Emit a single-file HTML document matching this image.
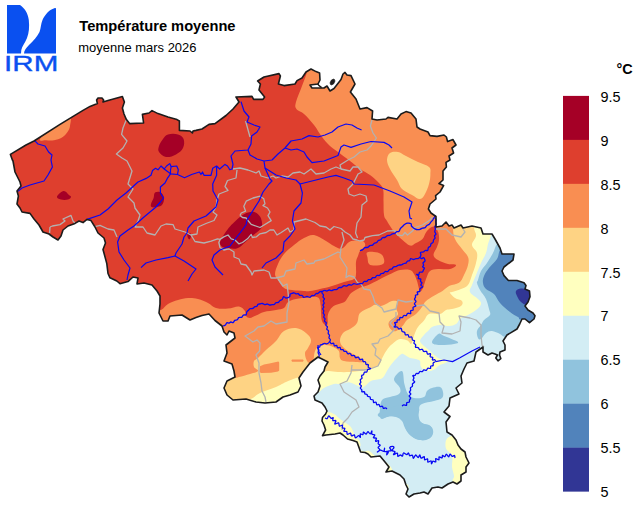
<!DOCTYPE html>
<html><head><meta charset="utf-8"><title>Température moyenne</title>
<style>
html,body{margin:0;padding:0;background:#fff;}
body{width:640px;height:507px;overflow:hidden;}
svg{display:block;font-family:"Liberation Sans",sans-serif;}
</style></head><body>
<svg width="640" height="507" viewBox="0 0 640 507">
<rect width="640" height="507" fill="#fff"/>
<defs><clipPath id="cp"><path d="M10.4 154.4 L26.0 145.0 L34.0 141.0 L60.0 124.4 L83.0 110.4 L90.0 106.4 L97.4 103.6 L96.6 100.0 L98.0 98.0 L102.0 98.0 L103.6 100.0 L103.0 102.0 L108.0 100.6 L122.4 96.6 L124.4 102.0 L122.4 108.0 L124.0 114.0 L126.4 119.6 L129.6 123.6 L143.6 123.0 L142.4 114.4 L149.0 113.0 L152.0 110.6 L158.0 113.6 L168.0 117.0 L177.0 119.6 L179.4 121.0 L179.4 130.4 L190.0 131.0 L192.4 133.0 L193.0 131.0 L196.0 130.4 L202.0 129.0 L209.0 124.4 L215.0 123.6 L226.0 115.5 L233.0 109.0 L239.0 102.0 L236.0 97.0 L252.0 96.4 L253.6 99.4 L263.0 99.4 L264.6 97.0 L259.0 90.0 L260.4 84.0 L257.6 81.0 L264.0 77.0 L279.0 73.6 L280.4 76.0 L278.4 84.0 L284.0 85.6 L295.0 84.0 L297.0 80.6 L302.0 78.0 L306.0 72.0 L311.0 69.0 L316.0 71.6 L319.6 73.0 L320.0 80.0 L318.0 84.0 L310.0 85.0 L312.0 88.0 L324.0 88.0 L327.0 86.0 L330.0 91.0 L334.0 88.5 L341.0 79.5 L343.0 74.0 L345.0 72.4 L347.0 75.0 L351.0 75.6 L355.0 84.0 L350.4 92.0 L356.0 99.0 L360.0 109.0 L367.0 107.6 L372.6 111.0 L372.0 119.0 L377.0 120.0 L386.0 119.0 L388.0 117.4 L397.0 119.0 L401.0 114.0 L406.0 111.6 L411.0 113.0 L416.0 119.0 L417.0 127.0 L420.0 129.0 L428.0 132.0 L430.0 135.6 L437.0 136.4 L444.0 135.0 L446.4 137.0 L447.6 141.6 L453.0 139.6 L456.0 145.0 L452.0 148.0 L453.6 153.0 L449.0 156.0 L450.0 160.0 L446.0 162.4 L446.4 167.0 L443.0 171.0 L443.0 180.0 L439.0 183.6 L443.6 185.6 L440.0 192.0 L435.6 195.6 L436.0 199.0 L430.0 204.0 L428.4 209.0 L431.0 213.0 L436.0 216.5 L436.0 227.0 L442.0 226.0 L446.0 222.0 L449.0 226.0 L452.0 225.0 L454.0 228.0 L461.0 225.0 L463.0 228.0 L472.0 226.0 L481.0 228.0 L483.0 234.0 L492.0 234.0 L495.0 239.0 L500.0 248.0 L502.0 254.0 L514.0 254.0 L513.0 260.0 L504.0 267.0 L502.0 271.0 L504.0 275.6 L508.4 280.5 L517.0 280.5 L524.0 282.7 L526.0 285.5 L525.0 289.0 L529.5 291.0 L530.0 296.7 L528.0 302.0 L525.0 306.0 L528.0 310.0 L533.0 313.0 L535.0 315.7 L534.0 319.0 L529.5 322.7 L525.0 319.0 L522.0 319.0 L519.7 324.0 L517.0 329.0 L511.0 332.6 L507.0 335.0 L505.0 338.0 L503.0 341.0 L505.0 345.0 L505.0 350.0 L500.0 352.0 L499.5 355.0 L500.8 358.6 L498.0 360.8 L495.8 358.0 L497.5 355.0 L495.0 354.0 L492.0 353.0 L488.0 355.0 L483.0 352.0 L483.0 347.0 L476.0 352.0 L474.0 361.0 L467.0 363.0 L464.0 369.0 L461.0 376.0 L462.0 383.0 L456.0 388.0 L459.0 394.0 L450.0 398.0 L449.0 406.0 L444.0 412.0 L450.0 416.5 L446.0 422.0 L447.0 432.0 L452.0 435.0 L456.0 440.0 L458.0 445.0 L461.0 449.0 L465.0 452.0 L466.0 457.0 L469.0 463.0 L466.0 467.0 L466.0 472.0 L461.0 475.0 L461.0 481.0 L457.0 484.0 L453.0 482.0 L448.0 484.0 L442.0 488.0 L438.0 487.0 L432.0 488.0 L428.0 494.0 L424.0 492.0 L420.0 493.0 L414.0 494.0 L409.0 497.0 L406.0 494.0 L408.0 489.0 L406.0 485.0 L404.0 479.0 L400.0 475.0 L392.0 471.0 L386.0 472.0 L389.0 467.0 L385.0 462.0 L380.0 456.0 L371.0 457.0 L368.0 454.0 L365.0 452.5 L360.6 452.0 L359.0 447.5 L357.0 442.0 L353.0 440.6 L347.5 439.0 L343.0 435.0 L340.0 433.0 L335.0 434.0 L326.0 435.0 L322.5 435.6 L325.6 430.0 L324.0 425.0 L322.0 421.0 L322.5 417.5 L325.6 414.0 L327.0 411.0 L325.0 407.0 L322.0 403.0 L315.0 400.0 L314.0 396.0 L318.0 392.0 L320.0 386.0 L318.0 380.0 L320.0 376.0 L324.0 371.0 L325.0 367.0 L328.0 362.0 L324.0 360.0 L318.0 357.0 L310.0 363.0 L303.0 372.0 L299.0 378.0 L301.0 386.0 L298.0 392.0 L290.0 395.0 L283.0 397.0 L276.0 402.0 L265.0 403.0 L256.0 402.0 L246.0 399.0 L233.0 400.0 L227.0 395.0 L224.0 388.0 L227.0 381.0 L235.0 377.0 L234.0 371.0 L232.0 364.0 L224.0 361.0 L227.0 353.0 L226.0 345.0 L235.0 338.0 L234.0 333.0 L229.0 331.0 L227.0 335.0 L224.0 332.0 L222.0 326.0 L215.0 320.5 L209.0 314.0 L202.0 315.5 L196.0 317.5 L190.0 320.0 L182.0 315.0 L170.0 316.0 L168.0 321.0 L163.0 321.0 L159.0 313.0 L160.0 304.0 L160.0 296.0 L157.0 291.0 L152.0 285.0 L144.0 283.0 L137.0 284.0 L138.0 278.0 L133.0 277.0 L128.0 281.6 L120.0 283.7 L116.8 281.0 L110.0 277.8 L108.0 273.5 L106.8 263.6 L104.5 255.0 L103.0 249.5 L105.5 243.0 L104.0 238.0 L98.0 233.0 L95.0 227.0 L91.0 220.6 L87.0 219.4 L83.0 222.6 L79.0 221.0 L75.0 223.4 L68.0 226.0 L63.0 230.0 L61.0 236.0 L58.0 240.0 L53.0 237.0 L49.0 234.0 L43.0 232.0 L39.0 225.0 L34.0 219.0 L30.0 213.4 L22.0 212.0 L20.0 208.0 L17.0 204.0 L18.4 196.0 L17.0 191.0 L21.0 186.0 L20.0 182.0 L15.0 172.0 L13.0 161.0 L12.4 160.0Z"/></clipPath></defs>
<g clip-path="url(#cp)" shape-rendering="geometricPrecision">
<rect x="0" y="60" width="560" height="447" fill="#de3f2e"/>
<path d="M40.0 139.0 C41.6 136.0 49.6 128.2 55.0 124.0 C60.4 119.8 66.8 115.6 69.5 116.0 C72.2 116.4 70.4 123.1 70.0 126.0 C69.6 128.9 69.0 129.9 67.5 132.0 C66.0 134.1 64.5 136.0 62.0 137.5 C59.5 139.0 56.9 139.7 54.0 140.2 C51.1 140.7 48.6 140.4 46.0 140.2 C43.4 140.0 38.4 142.0 40.0 139.0Z" fill="#f98e52"/>
<path d="M309.0 60.0 C279.1 62.2 308.3 67.2 307.0 72.0 C305.7 76.8 304.0 80.5 302.0 86.0 C300.0 91.5 297.0 97.8 296.0 102.0 C295.0 106.2 294.9 106.8 296.4 109.0 C297.9 111.2 300.8 111.1 304.0 114.0 C307.2 116.9 310.7 120.8 314.0 125.0 C317.3 129.2 319.1 133.2 322.0 137.0 C324.9 140.8 326.7 143.0 330.0 146.0 C333.3 149.0 336.3 150.8 340.0 153.5 C343.7 156.2 346.3 158.2 350.0 161.0 C353.7 163.8 356.3 166.4 360.0 169.0 C363.7 171.6 366.7 172.6 370.0 175.0 C373.3 177.4 375.6 179.4 378.0 182.0 C380.4 184.6 382.0 185.5 383.0 189.0 C384.0 192.5 383.3 196.2 383.5 201.0 C383.7 205.8 383.4 211.3 384.0 215.0 C384.6 218.7 385.7 218.7 387.0 221.0 C388.3 223.3 389.4 225.1 391.0 227.5 C392.6 229.9 393.9 231.7 396.0 234.0 C398.1 236.3 399.9 237.9 402.5 240.0 C405.1 242.1 407.5 245.0 410.0 245.6 C412.5 246.2 413.7 244.2 416.0 243.0 C418.3 241.8 420.7 240.9 422.5 239.0 C424.3 237.1 424.6 234.5 426.0 232.5 C427.4 230.5 428.4 229.2 430.0 228.0 C431.6 226.8 433.5 226.7 435.0 226.0 C436.5 225.3 431.6 226.0 438.0 224.0 C444.4 222.0 464.1 245.1 470.0 215.0 C475.9 184.9 499.5 88.4 470.0 60.0 C440.5 31.6 338.9 57.8 309.0 60.0Z" fill="#f98e52"/>
<path d="M304.0 238.0 C307.7 236.2 310.0 234.4 314.0 235.0 C318.0 235.6 322.3 239.0 326.0 241.0 C329.7 243.0 331.1 244.6 334.0 246.0 C336.9 247.4 339.1 249.3 342.0 248.5 C344.9 247.7 346.7 242.9 350.0 241.5 C353.3 240.1 357.4 240.5 360.0 240.6 C362.6 240.7 363.1 241.0 364.0 242.0 C364.9 243.0 365.7 244.3 365.0 246.0 C364.3 247.7 361.3 249.2 360.0 251.0 C358.7 252.8 358.7 254.0 358.0 256.0 C357.3 258.0 356.4 258.7 356.0 262.0 C355.6 265.3 356.4 270.9 356.0 274.0 C355.6 277.1 356.2 277.5 354.0 279.0 C351.8 280.5 348.0 280.7 344.0 282.0 C340.0 283.3 336.4 284.7 332.0 286.0 C327.6 287.3 324.0 288.1 320.0 289.0 C316.0 289.9 312.9 290.6 310.0 291.0 C307.1 291.4 307.3 291.2 304.0 291.0 C300.7 290.8 295.7 290.6 292.0 290.0 C288.3 289.4 286.6 289.8 284.0 288.0 C281.4 286.2 279.6 282.6 278.0 280.0 C276.4 277.4 275.0 276.9 275.0 274.0 C275.0 271.1 276.4 267.7 278.0 264.0 C279.6 260.3 281.1 257.5 284.0 254.0 C286.9 250.5 290.3 247.9 294.0 245.0 C297.7 242.1 300.3 239.8 304.0 238.0Z" fill="#f98e52"/>
<path d="M367.0 252.5 C368.2 251.5 371.4 251.7 374.0 252.0 C376.6 252.3 379.2 252.7 381.0 254.0 C382.8 255.3 383.6 257.2 384.0 259.0 C384.4 260.8 384.6 262.8 383.0 264.0 C381.4 265.2 377.6 265.6 375.0 265.6 C372.4 265.6 370.4 265.5 369.0 264.0 C367.6 262.5 367.9 259.6 367.5 257.5 C367.1 255.4 365.8 253.5 367.0 252.5Z" fill="#f98e52"/>
<path d="M150.0 312.0 C152.0 273.5 157.7 311.5 161.0 310.0 C164.3 308.5 164.9 305.8 168.0 304.0 C171.1 302.2 174.3 301.1 178.0 300.0 C181.7 298.9 184.3 298.2 188.0 298.0 C191.7 297.8 194.3 298.1 198.0 299.0 C201.7 299.9 204.7 301.4 208.0 303.0 C211.3 304.6 212.3 307.0 216.0 308.0 C219.7 309.0 223.8 308.9 228.0 308.6 C232.2 308.3 235.9 306.1 239.0 306.5 C242.1 306.9 243.7 309.3 245.0 311.0 C246.3 312.7 245.1 314.7 246.0 316.0 C246.9 317.3 248.2 318.1 250.0 318.0 C251.8 317.9 253.4 316.6 256.0 315.5 C258.6 314.4 260.3 313.0 264.0 312.0 C267.7 311.0 272.3 310.7 276.0 310.0 C279.7 309.3 281.8 309.5 284.0 308.0 C286.2 306.5 285.8 303.6 288.0 302.0 C290.2 300.4 292.3 299.8 296.0 299.0 C299.7 298.2 304.0 297.9 308.0 297.6 C312.0 297.3 315.7 296.1 318.0 297.5 C320.3 298.9 320.1 302.2 320.6 305.0 C321.2 307.8 320.7 309.6 321.0 312.5 C321.3 315.4 321.1 318.6 322.0 321.0 C322.9 323.4 325.0 325.2 326.0 325.6 C327.0 326.0 327.4 324.8 327.7 323.0 C328.0 321.2 327.3 318.4 327.7 316.0 C328.1 313.6 328.7 312.0 330.0 310.0 C331.3 308.0 332.4 306.7 335.0 305.3 C337.6 303.9 341.7 303.7 344.0 302.3 C346.3 300.9 346.3 299.5 347.7 297.7 C349.1 295.9 349.2 294.5 351.5 292.7 C353.8 290.9 356.6 289.2 360.0 287.7 C363.4 286.2 365.6 286.3 370.0 284.3 C374.4 282.3 379.9 279.1 384.0 277.0 C388.1 274.9 389.6 274.3 392.5 273.0 C395.4 271.7 396.8 270.6 400.0 270.0 C403.2 269.4 407.4 269.3 410.0 270.0 C412.6 270.7 412.7 272.0 414.0 274.0 C415.3 276.0 415.9 277.9 417.0 281.0 C418.1 284.1 418.9 289.7 420.0 291.0 C421.1 292.3 421.9 290.2 423.0 288.0 C424.1 285.8 424.7 282.1 426.0 279.0 C427.3 275.9 427.8 272.8 430.0 271.0 C432.2 269.2 434.3 269.4 438.0 269.0 C441.7 268.6 446.7 269.7 450.0 269.0 C453.3 268.3 456.4 265.9 456.0 265.0 C455.6 264.1 451.3 264.9 448.0 264.0 C444.7 263.1 440.7 261.6 438.0 260.0 C435.3 258.4 433.7 257.4 433.5 255.0 C433.3 252.6 436.0 249.8 437.0 247.0 C438.0 244.2 438.7 242.6 439.0 240.0 C439.3 237.4 438.9 235.2 438.5 233.0 C438.1 230.8 437.3 231.7 437.0 228.0 C436.7 224.3 412.6 215.8 437.0 213.0 C461.4 210.2 545.6 156.7 570.0 213.0 C594.4 269.3 647.0 463.7 570.0 520.0 C493.0 576.3 227.0 558.1 150.0 520.0 C73.0 481.9 148.0 350.5 150.0 312.0Z" fill="#f98e52"/>
<path d="M390.0 153.0 C392.0 151.5 395.1 151.4 398.0 152.0 C400.9 152.6 402.3 154.2 406.0 156.0 C409.7 157.8 413.8 160.0 418.0 162.0 C422.2 164.0 426.7 164.8 429.0 167.0 C431.3 169.2 430.4 170.9 430.4 174.0 C430.4 177.1 430.0 180.3 429.0 184.0 C428.0 187.7 426.6 191.2 425.0 194.0 C423.4 196.8 422.4 198.8 420.0 199.0 C417.6 199.2 415.3 196.8 412.0 195.0 C408.7 193.2 404.8 191.8 402.0 189.0 C399.2 186.2 399.2 183.7 397.0 180.0 C394.8 176.3 391.8 172.7 390.0 169.0 C388.2 165.3 387.0 162.9 387.0 160.0 C387.0 157.1 388.0 154.5 390.0 153.0Z" fill="#fed384"/>
<path d="M284.0 331.0 C287.7 328.6 292.0 327.6 296.0 328.0 C300.0 328.4 303.2 330.8 306.0 333.0 C308.8 335.2 310.6 337.2 311.0 340.0 C311.4 342.8 309.1 345.6 308.0 348.0 C306.9 350.4 305.2 350.6 305.0 353.0 C304.8 355.4 305.9 359.0 307.0 361.0 C308.1 363.0 310.1 363.1 311.0 364.0 C311.9 364.9 312.6 359.4 312.0 366.0 C311.4 372.6 308.7 391.9 308.0 400.0 C307.3 408.1 324.1 408.2 308.0 410.0 C291.9 411.8 236.1 415.9 220.0 410.0 C203.9 404.1 217.2 383.9 220.0 378.0 C222.8 372.1 231.5 378.2 235.0 378.0 C238.5 377.8 236.2 377.7 239.0 377.0 C241.8 376.3 246.5 375.1 250.0 374.0 C253.5 372.9 257.3 372.3 258.0 371.0 C258.7 369.7 254.7 368.8 254.0 367.0 C253.3 365.2 253.3 362.6 254.0 361.0 C254.7 359.4 255.8 360.0 258.0 358.0 C260.2 356.0 262.7 353.1 266.0 350.0 C269.3 346.9 272.7 344.5 276.0 341.0 C279.3 337.5 280.3 333.4 284.0 331.0Z" fill="#fed384"/>
<path d="M316.0 349.0 C318.4 345.1 322.0 344.8 326.0 345.0 C330.0 345.2 335.4 347.6 338.0 350.0 C340.6 352.4 338.9 356.0 340.0 358.0 C341.1 360.0 341.1 360.3 344.0 361.0 C346.9 361.7 352.3 361.8 356.0 362.0 C359.7 362.2 363.3 362.7 364.0 362.0 C364.7 361.3 362.0 359.5 360.0 358.0 C358.0 356.5 355.9 355.8 353.0 354.0 C350.1 352.2 346.4 350.4 344.0 348.0 C341.6 345.6 340.2 343.8 340.0 341.0 C339.8 338.2 341.2 335.2 343.0 333.0 C344.8 330.8 347.4 330.8 350.0 329.0 C352.6 327.2 355.2 325.9 357.0 323.0 C358.8 320.1 357.6 315.8 360.0 313.0 C362.4 310.2 367.2 309.0 370.0 307.5 C372.8 306.0 373.1 305.1 375.0 304.8 C376.9 304.5 378.6 306.1 380.6 306.0 C382.6 305.9 383.9 304.9 386.0 304.0 C388.1 303.1 389.9 301.4 392.0 301.0 C394.1 300.6 396.7 300.5 397.5 301.8 C398.3 303.1 396.1 305.7 396.2 308.0 C396.3 310.3 398.6 312.6 398.0 314.5 C397.4 316.4 394.6 317.2 393.0 318.5 C391.4 319.8 390.1 320.3 389.3 321.5 C388.5 322.7 388.4 323.7 388.6 325.0 C388.8 326.3 389.3 327.6 390.3 328.8 C391.3 330.0 392.6 331.1 394.0 331.3 C395.4 331.5 396.4 331.0 398.0 330.0 C399.6 329.0 401.3 327.5 403.0 325.6 C404.7 323.7 405.1 321.7 407.5 319.6 C409.9 317.5 413.4 316.2 416.0 314.0 C418.6 311.8 419.8 309.9 421.6 307.6 C423.4 305.3 423.5 303.4 425.8 301.2 C428.1 299.0 430.9 297.6 434.0 295.7 C437.1 293.8 439.7 292.8 442.5 291.0 C445.3 289.2 446.5 287.3 449.5 285.8 C452.5 284.3 456.3 284.8 459.0 282.8 C461.7 280.8 462.4 278.3 464.0 275.0 C465.6 271.7 467.3 268.3 468.0 265.0 C468.7 261.7 469.1 259.9 468.0 257.0 C466.9 254.1 464.4 252.3 462.0 249.0 C459.6 245.7 456.6 242.7 455.0 239.0 C453.4 235.3 453.4 233.8 453.0 229.0 C452.6 224.2 431.6 215.9 453.0 213.0 C474.4 210.1 548.5 156.7 570.0 213.0 C591.5 269.3 617.9 463.7 570.0 520.0 C522.1 576.3 356.9 542.0 309.0 520.0 C261.1 498.0 308.3 428.2 309.0 400.0 C309.7 371.8 311.7 375.4 313.0 366.0 C314.3 356.6 313.6 352.9 316.0 349.0Z" fill="#fed384"/>
<path d="M260.0 366.3 L264.0 364.6 L269.4 363.5 L278.4 361.4 L279.2 362.5 L279.2 370.5 L278.0 371.4 L271.0 372.8 L261.0 373.0 L259.6 372.0Z" fill="#f98e52"/>
<path d="M292.0 359.4 L303.0 359.4 L303.5 360.5 L303.0 361.8 L292.0 361.8 L291.5 360.5Z" fill="#f98e52"/>
<path d="M253.0 398.0 C255.6 396.5 255.8 395.0 260.0 393.0 C264.2 391.0 271.2 389.0 276.0 387.0 C280.8 385.0 282.3 383.6 286.0 382.0 C289.7 380.4 293.6 378.7 296.0 378.0 C298.4 377.3 297.9 378.2 299.0 378.0 C300.1 377.8 300.4 374.8 302.0 377.0 C303.6 379.2 306.9 383.9 308.0 390.0 C309.1 396.1 320.5 406.3 308.0 410.0 C295.5 413.7 251.4 411.6 240.0 410.0 C228.6 408.4 243.6 403.2 246.0 401.0 C248.4 398.8 250.4 399.5 253.0 398.0Z" fill="#ffffbf"/>
<path d="M474.0 215.0 C456.4 217.4 473.6 224.2 474.0 228.0 C474.4 231.8 476.4 232.9 476.0 236.0 C475.6 239.1 471.8 241.9 472.0 245.0 C472.2 248.1 476.3 249.7 477.0 253.0 C477.7 256.3 476.9 259.0 476.0 263.0 C475.1 267.0 473.5 271.0 472.0 275.0 C470.5 279.0 470.0 282.4 468.0 285.0 C466.0 287.6 463.9 287.7 461.0 289.0 C458.1 290.3 454.0 291.3 452.0 292.0 C450.0 292.7 449.4 291.9 450.0 293.0 C450.6 294.1 452.8 296.5 455.0 298.0 C457.2 299.5 460.9 299.5 462.0 301.0 C463.1 302.5 462.8 304.5 461.0 306.0 C459.2 307.5 454.8 308.3 452.0 309.0 C449.2 309.7 448.2 309.1 446.0 310.0 C443.8 310.9 443.1 313.3 440.0 314.0 C436.9 314.7 431.9 312.8 429.0 314.0 C426.1 315.2 426.0 318.1 424.0 320.5 C422.0 322.9 419.6 324.7 418.0 327.0 C416.4 329.3 415.9 330.8 415.0 333.0 C414.1 335.2 413.7 337.0 413.0 339.0 C412.3 341.0 412.0 343.7 411.0 344.0 C410.0 344.3 409.5 341.5 407.5 340.6 C405.5 339.7 402.5 338.7 400.0 339.0 C397.5 339.3 396.3 340.7 394.0 342.5 C391.7 344.3 389.6 346.2 387.5 349.0 C385.4 351.8 383.9 354.8 382.5 357.5 C381.1 360.2 381.2 361.8 380.0 363.5 C378.8 365.2 378.2 365.9 376.0 367.0 C373.8 368.1 370.9 368.8 368.0 369.5 C365.1 370.2 363.3 370.5 360.0 371.0 C356.7 371.5 354.0 371.8 350.0 372.0 C346.0 372.2 341.9 372.2 338.0 372.0 C334.1 371.8 331.8 371.0 329.0 371.0 C326.2 371.0 325.0 371.4 323.0 372.0 C321.0 372.6 320.0 372.5 318.0 374.0 C316.0 375.5 313.6 375.2 312.0 380.0 C310.4 384.8 309.6 374.3 309.0 400.0 C308.4 425.7 261.1 498.0 309.0 520.0 C356.9 542.0 522.1 575.9 570.0 520.0 C617.9 464.1 587.6 270.9 570.0 215.0 C552.4 159.1 491.6 212.6 474.0 215.0Z" fill="#ffffbf"/>
<path d="M491.0 225.0 C476.5 226.8 491.6 231.5 491.0 235.0 C490.4 238.5 488.9 240.7 488.0 244.0 C487.1 247.3 487.3 249.5 486.0 253.0 C484.7 256.5 482.8 259.0 481.0 263.0 C479.2 267.0 477.6 271.0 476.0 275.0 C474.4 279.0 473.1 281.9 472.0 285.0 C470.9 288.1 468.9 289.4 470.0 292.0 C471.1 294.6 476.0 296.8 478.0 299.0 C480.0 301.2 481.4 302.0 481.0 304.0 C480.6 306.0 478.8 307.8 476.0 310.0 C473.2 312.2 468.9 314.4 466.0 316.0 C463.1 317.6 461.8 317.5 460.0 319.0 C458.2 320.5 458.0 322.7 456.0 324.0 C454.0 325.3 451.9 325.8 449.0 326.0 C446.1 326.2 443.1 324.8 440.0 325.0 C436.9 325.2 434.0 326.1 432.0 327.0 C430.0 327.9 430.5 328.5 429.0 330.0 C427.5 331.5 425.6 333.0 424.0 335.0 C422.4 337.0 420.0 339.0 420.0 341.0 C420.0 343.0 422.2 344.2 424.0 346.0 C425.8 347.8 428.0 349.2 430.0 351.0 C432.0 352.8 433.2 354.1 435.0 355.6 C436.8 357.1 438.0 358.2 440.0 359.0 C442.0 359.8 444.2 359.7 446.0 360.0 C447.8 360.3 450.2 360.1 450.0 360.6 C449.8 361.2 447.0 362.1 445.0 363.0 C443.0 363.9 440.8 364.5 439.0 365.6 C437.2 366.7 436.6 368.0 435.0 369.0 C433.4 370.0 432.0 370.8 430.0 371.0 C428.0 371.2 425.7 370.9 424.0 370.0 C422.3 369.1 421.3 367.6 420.6 366.0 C419.9 364.4 420.8 362.3 420.0 361.0 C419.2 359.7 417.8 359.6 416.0 359.0 C414.2 358.4 412.0 358.7 410.0 358.0 C408.0 357.3 406.6 355.7 405.0 355.0 C403.4 354.3 403.0 353.4 401.5 354.0 C400.0 354.6 398.7 356.3 397.0 358.0 C395.3 359.7 393.7 361.3 392.0 363.5 C390.3 365.7 389.1 367.4 387.5 370.0 C385.9 372.6 384.8 375.8 383.0 377.5 C381.2 379.2 379.7 378.9 377.5 379.5 C375.3 380.1 373.3 379.8 371.0 381.0 C368.7 382.2 366.6 384.8 365.0 386.0 C363.4 387.2 363.6 387.7 362.0 387.5 C360.4 387.3 358.2 385.9 356.0 385.0 C353.8 384.1 352.2 382.9 350.0 382.5 C347.8 382.1 345.8 382.7 344.0 383.0 C342.2 383.3 341.8 383.8 340.0 384.0 C338.2 384.2 336.9 383.3 334.0 384.0 C331.1 384.7 326.8 386.5 324.0 388.0 C321.2 389.5 321.6 390.5 319.0 392.0 C316.4 393.5 311.6 372.5 310.0 396.0 C308.4 419.5 262.3 497.3 310.0 520.0 C357.7 542.7 522.3 574.1 570.0 520.0 C617.7 465.9 584.5 279.1 570.0 225.0 C555.5 170.9 505.5 223.2 491.0 225.0Z" fill="#d3edf4"/>
<path d="M318.0 413.0 C320.1 407.9 324.6 411.8 327.5 412.0 C330.4 412.2 331.7 412.7 334.0 414.0 C336.3 415.3 338.0 417.4 340.0 419.0 C342.0 420.6 343.2 421.2 345.0 422.5 C346.8 423.8 348.5 424.4 350.0 426.0 C351.5 427.6 351.9 428.9 353.0 431.0 C354.1 433.1 354.7 435.5 356.0 437.5 C357.3 439.5 359.6 440.1 360.0 442.0 C360.4 443.9 361.7 447.3 358.0 448.0 C354.3 448.7 347.7 447.5 340.0 446.0 C332.3 444.5 320.0 446.1 316.0 440.0 C312.0 433.9 315.9 418.1 318.0 413.0Z" fill="#ffffbf"/>
<path d="M358.0 450.0 C358.7 449.2 362.0 451.3 364.0 451.5 C366.0 451.7 367.2 450.4 369.0 451.0 C370.8 451.6 372.4 453.7 374.0 455.0 C375.6 456.3 378.4 457.1 378.0 458.0 C377.6 458.9 375.3 460.4 372.0 460.0 C368.7 459.6 362.6 457.8 360.0 456.0 C357.4 454.2 357.3 450.8 358.0 450.0Z" fill="#ffffbf"/>
<path d="M384.0 462.0 C385.1 460.5 388.5 464.2 390.0 466.0 C391.5 467.8 393.1 470.5 392.0 472.0 C390.9 473.5 385.5 475.8 384.0 474.0 C382.5 472.2 382.9 463.5 384.0 462.0Z" fill="#ffffbf"/>
<path d="M404.0 484.0 C404.7 483.3 407.3 484.1 408.0 485.0 C408.7 485.9 408.7 488.3 408.0 489.0 C407.3 489.7 404.7 489.9 404.0 489.0 C403.3 488.1 403.3 484.7 404.0 484.0Z" fill="#ffffbf"/>
<path d="M451.0 436.0 C444.7 438.0 445.4 443.3 445.6 447.0 C445.8 450.7 450.8 452.3 452.0 456.0 C453.2 459.7 451.6 463.3 452.0 467.0 C452.4 470.7 453.8 473.2 454.0 476.0 C454.2 478.8 451.5 479.4 453.0 482.0 C454.5 484.6 457.1 492.2 462.0 490.0 C466.9 487.8 476.7 479.9 480.0 470.0 C483.3 460.1 485.3 442.2 480.0 436.0 C474.7 429.8 457.3 434.0 451.0 436.0Z" fill="#ffffbf"/>
<path d="M348.0 428.0 C348.4 427.6 351.6 430.9 352.0 432.0 C352.4 433.1 350.7 434.7 350.0 434.0 C349.3 433.3 347.6 428.4 348.0 428.0Z" fill="#ffffbf"/>
<path d="M510.0 236.0 C499.6 236.9 505.4 239.5 503.0 241.0 C500.6 242.5 498.8 241.8 497.0 244.0 C495.2 246.2 494.8 249.5 493.0 253.0 C491.2 256.5 489.2 259.7 487.0 263.0 C484.8 266.3 482.6 267.9 481.0 271.0 C479.4 274.1 478.7 277.8 478.0 280.0 C477.3 282.2 476.6 281.2 477.0 283.0 C477.4 284.8 478.4 287.1 480.0 290.0 C481.6 292.9 484.4 295.5 486.0 299.0 C487.6 302.5 488.3 306.1 489.0 309.0 C489.7 311.9 490.9 313.0 490.0 315.0 C489.1 317.0 485.6 318.2 484.0 320.0 C482.4 321.8 482.3 323.0 481.0 325.0 C479.7 327.0 477.6 328.6 477.0 331.0 C476.4 333.4 477.3 336.5 478.0 338.0 C478.7 339.5 479.5 339.9 481.0 339.0 C482.5 338.1 484.0 334.5 486.0 333.0 C488.0 331.5 489.4 330.8 492.0 331.0 C494.6 331.2 497.6 332.9 500.0 334.0 C502.4 335.1 501.3 335.9 505.0 337.0 C508.7 338.1 509.9 339.4 520.0 340.0 C530.1 340.6 552.7 359.1 560.0 340.0 C567.3 320.9 569.2 255.1 560.0 236.0 C550.8 216.9 520.5 235.1 510.0 236.0Z" fill="#90c3dd"/>
<path d="M432.0 342.0 C432.0 340.0 436.4 335.2 438.4 334.0 C440.4 332.8 440.7 334.6 443.0 335.5 C445.3 336.4 448.2 337.5 451.0 338.7 C453.8 339.9 457.4 341.0 458.0 342.0 C458.6 343.0 457.6 343.4 454.0 344.0 C450.4 344.6 442.4 345.4 438.4 345.0 C434.4 344.6 432.0 344.0 432.0 342.0Z" fill="#90c3dd"/>
<path d="M382.0 400.0 C383.8 397.8 386.9 398.1 390.0 397.0 C393.1 395.9 397.2 395.6 399.0 394.0 C400.8 392.4 400.9 390.8 400.0 388.0 C399.1 385.2 393.6 382.1 394.0 379.0 C394.4 375.9 400.1 370.1 402.0 371.0 C403.9 371.9 403.3 379.8 404.4 384.0 C405.5 388.2 406.2 391.4 408.0 394.0 C409.8 396.6 411.1 397.4 414.0 398.0 C416.9 398.6 421.6 398.3 424.0 397.0 C426.4 395.7 425.5 392.6 427.0 391.0 C428.5 389.4 429.6 388.7 432.0 388.0 C434.4 387.3 438.0 386.3 440.0 387.0 C442.0 387.7 442.6 390.0 443.0 392.0 C443.4 394.0 443.6 396.4 442.0 398.0 C440.4 399.6 437.7 399.9 434.0 401.0 C430.3 402.1 424.8 402.5 422.0 404.0 C419.2 405.5 419.6 406.4 419.0 409.0 C418.4 411.6 418.4 415.4 419.0 418.0 C419.6 420.6 420.0 421.5 422.0 423.0 C424.0 424.5 428.0 424.7 430.0 426.0 C432.0 427.3 432.6 428.2 433.0 430.0 C433.4 431.8 433.3 434.2 432.0 436.0 C430.7 437.8 428.6 439.3 426.0 440.0 C423.4 440.7 420.9 440.5 418.0 439.6 C415.1 438.7 412.4 437.1 410.0 435.0 C407.6 432.9 406.5 430.6 405.0 428.0 C403.5 425.4 403.6 423.0 402.0 421.0 C400.4 419.0 398.6 417.8 396.0 417.0 C393.4 416.2 390.6 416.0 388.0 416.4 C385.4 416.8 383.5 419.1 382.0 419.0 C380.5 418.9 380.4 417.8 380.0 416.0 C379.6 414.2 379.6 411.9 380.0 409.0 C380.4 406.1 380.2 402.2 382.0 400.0Z" fill="#90c3dd"/>
<path d="M379.0 413.0 C375.7 415.4 379.6 417.4 382.0 418.0 C384.4 418.6 388.7 416.0 392.0 416.0 C395.3 416.0 397.8 416.7 400.0 418.0 C402.2 419.3 402.7 420.6 404.0 423.0 C405.3 425.4 405.2 428.2 407.0 431.0 C408.8 433.8 411.2 436.4 414.0 438.0 C416.8 439.6 418.9 440.2 422.0 440.0 C425.1 439.8 429.2 439.0 431.0 437.0 C432.8 435.0 432.4 431.2 432.0 429.0 C431.6 426.8 430.8 426.1 429.0 425.0 C427.2 423.9 424.0 424.5 422.0 423.0 C420.0 421.5 418.7 419.9 418.0 417.0 C417.3 414.1 421.3 409.2 418.0 407.0 C414.7 404.8 407.1 403.9 400.0 405.0 C392.9 406.1 382.3 410.6 379.0 413.0Z" fill="#90c3dd"/>
<path d="M512.0 244.0 C502.1 245.5 508.2 246.9 506.0 248.0 C503.8 249.1 501.6 248.0 500.0 250.0 C498.4 252.0 499.0 255.7 497.0 259.0 C495.0 262.3 491.4 264.9 489.0 268.0 C486.6 271.1 485.1 273.2 484.0 276.0 C482.9 278.8 482.6 280.6 483.0 283.0 C483.4 285.4 484.0 287.0 486.0 289.0 C488.0 291.0 491.4 291.4 494.0 294.0 C496.6 296.6 497.1 299.7 500.0 303.0 C502.9 306.3 506.7 309.4 510.0 312.0 C513.3 314.6 515.4 315.5 518.0 317.0 C520.6 318.5 516.3 319.4 524.0 320.0 C531.7 320.6 553.4 334.7 560.0 320.0 C566.6 305.3 568.8 253.9 560.0 240.0 C551.2 226.1 521.9 242.5 512.0 244.0Z" fill="#5183bb"/>
<path d="M516.0 291.0 C516.7 289.6 519.0 288.8 521.0 288.5 C523.0 288.2 525.0 288.9 527.0 289.5 C529.0 290.1 531.1 290.1 532.0 292.0 C532.9 293.9 532.9 297.6 532.0 300.0 C531.1 302.4 529.0 304.6 527.0 305.0 C525.0 305.4 522.8 303.6 521.0 302.0 C519.2 300.4 517.9 298.0 517.0 296.0 C516.1 294.0 515.3 292.4 516.0 291.0Z" fill="#313695"/>
<path d="M168.0 134.4 C170.8 133.6 175.1 133.6 178.0 134.4 C180.9 135.2 182.7 136.5 183.6 139.0 C184.5 141.5 184.4 145.2 183.0 148.0 C181.6 150.8 179.1 152.8 176.0 154.4 C172.9 156.1 169.1 157.4 166.0 157.0 C162.9 156.6 160.3 154.0 159.0 152.0 C157.7 150.0 158.3 148.4 159.0 146.0 C159.7 143.6 161.3 141.1 163.0 139.0 C164.7 136.9 165.2 135.2 168.0 134.4Z" fill="#a50026"/>
<path d="M63.6 191.0 C65.8 190.7 67.6 193.9 69.0 195.0 C70.4 196.1 71.2 196.2 71.0 197.0 C70.8 197.8 69.8 199.1 68.0 199.6 C66.2 200.1 63.0 200.2 61.0 199.6 C59.0 199.0 56.5 198.2 57.0 196.6 C57.5 195.0 61.4 191.3 63.6 191.0Z" fill="#a50026"/>
<path d="M157.0 192.0 C158.2 191.9 159.7 191.5 161.0 192.6 C162.3 193.7 163.8 195.7 164.0 198.0 C164.2 200.3 163.5 203.3 162.0 205.0 C160.5 206.7 157.9 206.6 156.0 207.0 C154.1 207.4 152.5 207.6 151.6 207.0 C150.7 206.4 150.6 205.7 151.0 204.0 C151.4 202.3 153.0 199.9 153.6 198.0 C154.2 196.1 153.8 194.5 154.4 193.4 C155.0 192.3 155.8 192.1 157.0 192.0Z" fill="#a50026"/>
<path d="M248.0 212.6 C250.4 212.0 252.8 211.5 255.0 212.2 C257.2 212.9 258.7 214.5 260.0 216.5 C261.3 218.5 261.8 220.8 262.0 223.0 C262.2 225.2 262.6 226.3 261.0 228.5 C259.4 230.7 256.3 232.5 253.5 235.0 C250.7 237.5 248.3 239.6 245.5 242.0 C242.7 244.4 240.8 246.8 238.0 248.0 C235.2 249.2 232.6 248.7 230.0 248.6 C227.4 248.5 225.7 248.2 224.0 247.5 C222.3 246.8 221.1 246.3 220.5 245.0 C219.9 243.7 219.7 242.7 220.5 240.5 C221.3 238.3 223.3 235.6 225.0 233.0 C226.7 230.4 228.0 228.8 230.0 226.5 C232.0 224.2 233.8 222.5 236.0 220.5 C238.2 218.5 239.8 216.9 242.0 215.5 C244.2 214.1 245.6 213.2 248.0 212.6Z" fill="#a50026"/>
<path d="M187.5 233.5 C188.1 232.8 190.5 233.0 191.0 234.0 C191.5 235.0 190.6 238.3 190.0 239.0 C189.4 239.7 188.5 239.0 188.0 238.0 C187.5 237.0 186.9 234.2 187.5 233.5Z" fill="#a50026"/>
</g>
<path d="M126.4 119.6 L123.0 128.0 L121.6 134.4 L127.0 141.0 L123.0 148.0 L116.4 154.0 L122.0 158.0 L127.0 161.0 L132.0 171.0 L128.0 184.0 L133.0 189.0 L128.0 197.0 L134.0 203.0 L135.0 208.0 L140.0 215.0 L138.0 221.0 L135.0 227.0 L143.0 227.0 L147.0 233.0 L155.0 235.0 L161.0 226.0 L166.0 224.0 L173.0 224.6 L175.0 229.0 L185.0 232.0 L191.0 235.0 L197.0 234.0 L198.0 227.0 L206.0 223.5 L214.0 220.5 L217.0 215.0 L213.0 212.0 L216.0 207.0 L217.0 200.0 L219.0 194.0 L228.0 190.5 L225.0 186.5 L227.5 180.5 L236.0 178.0 L237.0 170.0" fill="none" stroke="#b2b2b2" stroke-width="1.3" stroke-linejoin="round"/>
<path d="M95.0 226.6 L100.0 225.4 L108.0 229.0 L114.0 230.0 L117.0 237.0" fill="none" stroke="#b2b2b2" stroke-width="1.3" stroke-linejoin="round"/>
<path d="M50.0 227.0 L49.6 233.0" fill="none" stroke="#b2b2b2" stroke-width="1.3" stroke-linejoin="round"/>
<path d="M50.0 227.0 L52.4 226.0 L60.0 224.6 L65.0 221.0 L63.0 219.0 L71.0 215.4 L73.0 221.0 L75.0 223.0" fill="none" stroke="#b2b2b2" stroke-width="1.3" stroke-linejoin="round"/>
<path d="M245.6 121.0 L250.0 137.0" fill="none" stroke="#b2b2b2" stroke-width="1.3" stroke-linejoin="round"/>
<path d="M233.0 169.0 L240.0 168.0 L248.0 170.0 L256.0 173.0 L259.0 171.0 L261.0 176.0 L268.0 178.0 L273.0 176.0 L276.0 178.0 L282.0 176.0 L288.0 177.0 L293.0 173.0 L300.0 172.0 L304.0 174.0 L311.0 169.0 L316.0 174.0 L324.0 173.0 L331.0 169.0 L336.0 167.0 L341.0 169.0 L340.0 165.0 L348.0 160.0 L354.0 157.0 L360.0 152.0 L367.0 150.0 L371.0 146.0 L376.4 138.0 L373.0 133.0 L370.4 126.0 L372.0 120.0" fill="none" stroke="#b2b2b2" stroke-width="1.3" stroke-linejoin="round"/>
<path d="M341.0 169.0 L350.0 171.0 L353.0 167.0 L358.0 167.0 L362.0 172.0 L358.0 174.0 L356.0 178.0 L353.0 184.0 L348.0 189.0 L349.0 194.0 L354.0 196.0 L360.0 194.0 L366.0 196.0 L367.0 201.0 L362.0 205.0 L361.0 217.0 L357.0 223.0 L355.6 233.0 L357.6 238.0" fill="none" stroke="#b2b2b2" stroke-width="1.3" stroke-linejoin="round"/>
<path d="M240.0 215.6 L241.2 213.0 L245.6 211.2 L243.8 206.2 L246.2 201.2 L253.0 198.0 L260.0 196.2 L263.8 198.8 L265.0 203.8 L263.0 205.6 L267.5 208.0 L270.0 212.0 L268.0 215.6 L271.2 220.6 L260.0 227.5 L251.2 224.4 L247.5 220.0 L246.2 218.0 L242.5 217.5 L240.0 215.6" fill="none" stroke="#b2b2b2" stroke-width="1.3" stroke-linejoin="round"/>
<path d="M191.0 235.0 L195.0 241.5 L204.0 243.0 L211.2 241.2 L217.5 238.8 L220.0 239.4 L223.8 236.9 L228.0 235.0 L231.2 238.8 L235.0 240.0 L238.8 243.8 L242.5 242.5 L247.5 238.8 L251.2 234.4 L252.5 237.5 L256.2 236.9 L260.0 233.8 L266.2 232.5 L270.0 230.0 L273.8 230.0 L277.0 235.0 L281.2 232.5 L285.0 230.0 L288.0 228.0 L290.0 232.0 L294.0 230.0 L294.0 222.0 L306.0 219.0 L315.0 222.5 L320.0 226.0 L326.0 227.0 L330.0 230.0 L334.0 226.5 L341.0 228.5 L345.0 232.0 L350.0 235.0 L353.0 239.0 L357.0 240.0 L360.0 241.0 L364.0 240.0 L365.0 237.5 L372.5 235.6 L379.0 235.0 L387.5 231.0 L395.0 230.6 L397.5 235.0 L402.5 235.6 L405.0 232.5 L407.5 235.0 L412.5 231.0 L415.0 227.5 L422.5 225.0 L430.0 220.0 L432.5 217.0" fill="none" stroke="#b2b2b2" stroke-width="1.3" stroke-linejoin="round"/>
<path d="M220.0 239.4 L218.8 242.5 L220.0 247.5 L223.8 250.0 L228.8 248.8 L232.5 251.0 L234.0 252.0 L234.0 257.0 L239.0 259.0 L241.0 264.0 L246.0 265.0 L251.0 272.0 L252.0 275.0 L254.0 271.0 L264.0 270.0 L269.0 272.0 L271.0 278.0 L276.0 278.0 L284.0 276.0 L286.0 271.0 L295.0 269.0 L296.0 263.0 L304.0 260.0 L307.0 264.0 L314.0 263.0 L315.0 261.0 L324.0 259.0 L338.0 252.0 L341.0 253.0" fill="none" stroke="#b2b2b2" stroke-width="1.3" stroke-linejoin="round"/>
<path d="M342.0 232.0 L344.0 240.0 L341.0 248.0 L340.0 257.0 L347.0 268.0 L346.0 277.5 L349.0 275.6 L354.0 277.0 L357.5 282.5 L361.0 284.0 L364.0 289.0 L370.0 290.0 L373.0 296.5 L375.0 303.0 L382.0 308.0 L384.0 312.0 L396.0 309.0 L398.0 300.0 L406.0 302.0 L413.0 301.0" fill="none" stroke="#b2b2b2" stroke-width="1.3" stroke-linejoin="round"/>
<path d="M278.0 279.0 L283.0 286.0 L287.0 284.0 L288.0 292.0 L289.0 303.0 L287.0 313.0 L287.0 322.0 L276.0 324.0 L271.0 321.0 L264.0 326.0 L258.0 327.0 L254.0 331.0 L245.0 336.0 L253.0 342.0 L257.0 340.0 L260.0 343.0 L259.6 351.0 L256.0 355.0 L259.0 363.0 L259.0 373.0 L261.0 383.0 L262.0 391.0 L265.0 397.0 L266.0 402.0" fill="none" stroke="#b2b2b2" stroke-width="1.3" stroke-linejoin="round"/>
<path d="M415.0 306.0 L424.0 305.0 L430.0 311.0 L439.0 313.0 L440.0 322.0 L444.0 326.0 L442.0 333.0 L452.0 334.0 L460.0 331.0 L461.0 322.0 L459.0 316.0 L470.0 318.0 L476.0 320.0 L481.0 325.0 L481.0 335.0 L482.0 345.0 L484.0 347.0" fill="none" stroke="#b2b2b2" stroke-width="1.3" stroke-linejoin="round"/>
<path d="M396.0 312.0 L396.0 317.0 L390.0 323.0 L395.0 329.0 L388.0 336.0 L380.0 339.0 L378.0 343.0 L372.0 344.0 L376.0 349.0 L375.0 355.0 L381.0 360.0 L378.0 366.0 L370.0 369.0 L364.0 370.0 L352.0 370.0" fill="none" stroke="#b2b2b2" stroke-width="1.3" stroke-linejoin="round"/>
<path d="M352.0 365.0 L351.0 373.0 L347.0 381.0 L340.0 384.0 L344.0 392.0 L350.0 396.0 L356.0 400.0 L359.0 407.0 L352.0 412.0 L348.0 418.0 L343.0 423.0 L342.0 430.0" fill="none" stroke="#b2b2b2" stroke-width="1.3" stroke-linejoin="round"/>
<path d="M436.0 229.0 L446.0 229.0 L452.0 235.0 L461.0 237.0 L465.0 232.0 L463.0 229.0" fill="none" stroke="#b2b2b2" stroke-width="1.3" stroke-linejoin="round"/>
<path d="M34.4 140.4 L38.0 144.0 L45.0 146.0 L48.6 152.0 L52.0 155.0 L51.0 160.0 L52.4 167.0 L48.0 175.0 L44.0 181.0 L30.0 185.0 L22.0 188.0 L18.0 191.4" fill="none" stroke="#0808f4" stroke-width="1.20" stroke-linejoin="round"/>
<path d="M87.0 219.4 L100.0 215.0 L108.0 209.0 L117.0 200.0 L126.0 193.0 L138.0 182.0 L146.2 178.4 L151.0 175.3 L152.5 170.6 L155.6 168.3 L158.0 169.8 L161.0 166.0 L164.2 169.0 L166.6 166.0 L169.7 163.6 L171.2 166.7" fill="none" stroke="#0808f4" stroke-width="1.20" stroke-linejoin="round"/>
<path d="M164.2 169.0 L170.5 173.8 L177.5 174.5 L178.3 169.8 L176.7 166.0 L171.2 166.7 L170.5 170.0 L170.5 173.8" fill="none" stroke="#0808f4" stroke-width="1.20" stroke-linejoin="round"/>
<path d="M177.5 174.5 L184.5 177.7 L191.6 174.5 L199.4 172.0 L201.0 174.5 L202.5 172.0 L204.0 175.3 L211.0 175.3 L212.7 168.3 L216.6 166.0 L219.7 169.0 L225.0 164.4 L227.5 166.0 L229.8 169.8 L232.0 169.0 L233.0 164.4 L231.0 156.0 L235.0 151.0 L248.0 150.0 L251.0 144.0 L251.6 136.0 L257.0 132.0 L260.0 127.0 L254.0 125.0 L247.0 122.0 L249.0 117.0 L244.0 111.0 L241.0 101.6" fill="none" stroke="#0808f4" stroke-width="1.20" stroke-linejoin="round"/>
<path d="M170.5 173.8 L167.3 178.4 L165.0 183.0 L160.4 187.0 L160.4 193.0 L163.6 198.0 L160.4 202.0 L156.0 207.0 L144.0 217.0 L134.0 226.0 L128.0 230.0 L120.0 236.0 L117.6 242.0 L119.0 252.0 L124.0 260.0 L130.0 268.0 L128.0 275.0 L127.0 280.0" fill="none" stroke="#0808f4" stroke-width="1.20" stroke-linejoin="round"/>
<path d="M216.6 166.0 L216.6 175.3 L212.7 184.0 L213.0 191.0 L218.0 200.0 L216.0 207.0 L206.0 216.0 L194.0 221.0 L188.0 228.0 L187.0 233.0 L184.0 237.0 L182.0 244.0 L176.0 253.0 L175.0 256.0 L184.0 261.0 L193.0 267.0 L196.0 269.0 L192.0 274.0 L188.0 281.0" fill="none" stroke="#0808f4" stroke-width="1.20" stroke-linejoin="round"/>
<path d="M141.0 267.6 L146.0 263.0 L156.0 260.0 L168.0 257.6 L175.0 256.0" fill="none" stroke="#0808f4" stroke-width="1.20" stroke-linejoin="round"/>
<path d="M248.0 150.0 L250.0 155.0 L257.0 159.0 L264.0 161.0 L272.0 160.0 L278.0 154.0 L285.0 148.0 L291.0 141.0 L302.0 139.0 L309.0 135.6 L318.0 137.0 L325.0 135.0 L332.0 132.0 L338.0 127.0 L346.0 124.0 L352.0 125.0 L357.0 128.0 L361.6 130.0" fill="none" stroke="#0808f4" stroke-width="1.20" stroke-linejoin="round"/>
<path d="M285.0 148.0 L291.0 150.0 L297.0 149.0 L304.0 152.0 L307.0 157.0 L312.0 162.6 L324.0 161.0 L338.0 155.5 L341.0 147.0 L344.0 145.0 L351.0 147.4 L361.0 144.0 L371.0 141.5 L384.0 142.4 L389.0 145.0 L392.0 148.0" fill="none" stroke="#0808f4" stroke-width="1.20" stroke-linejoin="round"/>
<path d="M264.0 161.0 L265.0 168.0 L276.0 175.0 L286.0 178.0 L296.0 180.0 L300.0 184.0 L316.0 180.0 L328.0 177.0 L336.0 175.4 L344.0 178.0 L352.0 181.0 L354.0 184.0 L374.0 185.0 L390.0 191.0 L404.0 197.0 L412.0 202.0 L409.0 211.0 L410.0 218.0 L412.0 219.0" fill="none" stroke="#0808f4" stroke-width="1.20" stroke-linejoin="round"/>
<path d="M300.0 184.0 L302.4 193.0 L301.0 203.0 L294.0 211.0 L292.4 221.0 L295.0 229.0 L290.0 236.0 L284.0 242.0 L283.0 251.0 L276.0 258.0 L266.0 263.0 L262.0 268.0" fill="none" stroke="#0808f4" stroke-width="1.20" stroke-linejoin="round"/>
<path d="M265.0 168.0 L270.0 179.0 L272.0 181.0 L269.0 184.0 L263.0 192.0 L259.0 201.0 L252.0 212.0 L247.0 220.0 L246.0 225.0 L240.0 233.0 L236.0 238.0 L230.0 246.0 L220.0 250.0 L214.0 255.0 L212.0 260.0 L215.0 267.0 L220.0 272.0 L223.0 275.0" fill="none" stroke="#0808f4" stroke-width="1.20" stroke-linejoin="round"/>
<path d="M223.0 326.0 C223.4 325.8 224.7 325.5 225.4 325.0 C226.0 324.4 226.2 323.1 226.8 322.8 C227.5 322.5 228.4 323.3 229.1 323.2 C229.8 323.0 230.3 322.1 230.9 322.0 C231.6 321.9 232.4 322.9 233.1 322.6 C233.7 322.3 234.1 320.9 234.8 320.4 C235.5 320.0 236.7 320.3 237.3 319.8 C238.0 319.3 238.0 318.0 238.7 317.6 C239.4 317.2 240.8 317.7 241.6 317.3 C242.4 316.9 242.6 315.5 243.4 315.1 C244.2 314.7 245.6 315.3 246.2 314.8 C246.7 314.3 246.3 312.9 246.7 312.1 C247.0 311.3 247.9 310.8 248.5 310.2 C249.1 309.6 249.5 309.0 250.2 308.7 C250.9 308.4 252.0 308.7 252.8 308.3 C253.6 308.0 254.2 307.0 254.9 306.7 C255.6 306.3 256.5 306.7 257.0 306.3 C257.5 305.9 257.5 304.6 258.0 304.2 C258.6 303.8 259.6 304.1 260.3 303.9 C261.0 303.8 261.7 303.3 262.4 303.5 C263.2 303.6 263.9 304.6 264.7 304.7 C265.5 304.8 266.4 303.9 267.3 304.0 C268.1 304.0 268.8 304.9 269.6 305.0 C270.4 305.1 271.3 304.7 272.1 304.6 C272.8 304.5 273.5 304.7 274.2 304.4 C274.8 304.1 275.2 303.1 275.9 302.7 C276.5 302.4 277.5 302.8 278.2 302.4 C278.9 302.1 279.1 301.2 279.8 300.7 C280.5 300.1 281.7 300.0 282.3 299.3 C283.0 298.6 283.0 296.8 283.6 296.6 C284.2 296.4 285.1 297.8 285.9 298.0 C286.6 298.1 287.5 297.8 288.1 297.6 C288.7 297.4 289.4 297.2 289.8 296.7 C290.1 296.1 289.8 294.9 290.2 294.3 C290.6 293.7 291.7 293.5 292.3 293.3 C293.0 293.0 293.5 292.6 294.1 292.8 C294.7 292.9 295.3 293.8 296.0 293.9 C296.6 294.1 297.4 293.5 298.1 293.7 C298.7 293.9 299.2 295.0 299.9 295.3 C300.6 295.6 301.6 295.1 302.3 295.5 C302.9 295.8 303.0 297.3 303.8 297.4 C304.6 297.6 306.0 296.5 307.0 296.5 C308.0 296.5 309.2 297.5 310.0 297.4 C310.8 297.2 311.1 295.9 311.8 295.6 C312.5 295.3 313.6 295.8 314.3 295.5 C314.9 295.2 315.2 294.1 315.9 293.7 C316.5 293.4 317.5 293.6 318.1 293.3 C318.8 292.9 319.2 292.1 319.9 291.7 C320.5 291.4 321.4 291.6 322.2 291.4 C322.9 291.1 323.6 290.3 324.4 290.3 C325.1 290.2 326.0 291.1 326.8 291.1 C327.6 291.0 328.4 290.1 329.2 290.0 C330.0 289.9 330.8 290.7 331.6 290.6 C332.4 290.6 333.1 289.9 334.0 289.7 C334.8 289.5 335.9 289.9 336.7 289.5 C337.5 289.2 338.0 288.0 338.9 287.6 C339.7 287.3 340.8 287.7 341.6 287.3 C342.5 287.0 343.0 285.9 343.9 285.7 C344.7 285.4 345.8 286.2 346.6 286.0 C347.5 285.9 348.1 284.8 348.9 284.6 C349.8 284.5 350.8 285.2 351.6 285.1 C352.4 284.9 353.0 283.7 353.9 283.6 C354.8 283.5 356.0 284.4 357.0 284.4 C358.0 284.4 359.1 283.9 360.0 283.7 C360.9 283.6 361.7 283.9 362.4 283.5 C363.1 283.2 363.4 281.9 364.1 281.5 C364.8 281.2 365.9 281.7 366.6 281.4 C367.3 281.1 367.7 280.1 368.4 279.7 C369.2 279.4 370.2 279.7 370.9 279.4 C371.6 279.0 372.0 278.0 372.7 277.6 C373.4 277.3 374.5 277.9 375.2 277.5 C375.9 277.1 376.1 275.8 376.8 275.5 C377.5 275.1 378.7 275.8 379.4 275.5 C380.1 275.2 380.4 274.0 381.1 273.7 C381.8 273.3 382.8 273.6 383.5 273.3 C384.1 272.9 384.5 271.8 385.2 271.5 C385.9 271.2 387.0 271.9 387.8 271.5 C388.5 271.2 388.8 269.9 389.5 269.5 C390.2 269.0 391.3 269.3 392.0 268.9 C392.7 268.4 392.9 267.3 393.7 266.9 C394.4 266.5 395.5 266.8 396.3 266.5 C397.1 266.2 397.7 265.3 398.6 265.1 C399.4 264.8 400.5 265.2 401.4 264.9 C402.3 264.7 403.1 263.8 403.9 263.5 C404.6 263.2 405.5 263.5 406.0 263.1 C406.6 262.7 406.7 261.6 407.3 261.2 C407.8 260.7 409.0 261.1 409.6 260.7 C410.1 260.3 410.1 258.8 410.7 258.6 C411.4 258.4 412.6 259.5 413.5 259.5 C414.4 259.5 415.2 258.8 416.0 258.6 C416.8 258.5 417.5 258.8 418.1 258.5 C418.8 258.3 419.4 257.8 419.9 257.2 C420.4 256.7 420.8 255.9 420.9 255.1 C421.0 254.3 420.1 252.9 420.5 252.4 C420.9 251.9 422.5 252.4 423.3 252.0 C424.1 251.7 424.5 250.7 425.2 250.5 C425.9 250.2 427.1 250.9 427.7 250.4 C428.2 250.0 427.9 248.4 428.3 247.7 C428.8 247.0 429.9 246.9 430.4 246.2 C430.8 245.6 430.6 244.5 431.0 243.8 C431.5 243.1 432.7 243.0 433.1 242.3 C433.5 241.6 433.2 240.4 433.6 239.7 C433.9 239.0 434.9 238.8 435.1 238.1 C435.2 237.5 434.4 236.5 434.5 235.9 C434.7 235.2 435.8 234.8 435.9 234.1 C435.9 233.4 434.9 232.4 434.8 231.6 C434.7 230.7 435.4 229.8 435.4 229.0 C435.4 228.1 434.8 227.4 434.9 226.6 C435.1 225.9 436.0 225.2 436.1 224.4 C436.2 223.6 435.7 222.8 435.7 222.0 C435.7 221.2 436.2 220.4 436.0 219.6 C435.9 218.9 434.9 218.2 434.7 217.4 C434.6 216.6 435.0 215.4 435.0 215.0" fill="none" stroke="#0808f4" stroke-width="1.30" stroke-linejoin="round"/>
<path d="M322.0 291.0 C322.0 291.4 321.8 292.5 322.1 293.1 C322.3 293.8 323.3 294.2 323.5 294.9 C323.6 295.5 322.9 296.4 323.0 297.1 C323.2 297.8 324.4 298.2 324.5 298.9 C324.5 299.5 323.4 300.3 323.3 301.0 C323.3 301.6 324.2 302.4 324.2 303.1 C324.1 303.7 323.1 304.3 323.0 305.0 C322.9 305.6 323.8 306.4 323.8 307.1 C323.7 307.7 322.7 308.3 322.7 309.0 C322.7 309.6 323.7 310.2 323.8 310.9 C323.8 311.6 323.1 312.4 323.2 313.1 C323.3 313.7 324.3 314.3 324.4 314.9 C324.4 315.6 323.6 316.4 323.7 317.1 C323.9 317.8 325.0 318.3 325.1 318.9 C325.2 319.6 324.2 320.5 324.4 321.1 C324.6 321.7 326.0 322.1 326.3 322.8 C326.5 323.5 325.6 324.5 325.8 325.1 C326.0 325.8 327.3 326.1 327.4 326.8 C327.6 327.5 326.6 328.5 326.8 329.2 C327.0 329.9 328.3 330.1 328.5 330.8 C328.8 331.5 328.0 332.6 328.2 333.3 C328.3 334.1 329.4 334.6 329.5 335.4 C329.6 336.2 328.8 337.1 329.0 337.9 C329.1 338.6 330.5 339.1 330.4 339.9 C330.4 340.7 329.2 342.2 328.6 342.9 C328.0 343.5 327.5 343.7 326.7 343.8 C326.0 343.8 325.0 343.1 324.3 343.3 C323.5 343.4 322.7 344.3 322.1 344.6 C321.4 344.9 320.8 344.6 320.3 345.0 C319.9 345.4 320.1 346.6 319.7 347.0 C319.2 347.4 317.7 347.1 317.6 347.6 C317.5 348.1 318.8 349.4 318.9 350.2 C319.0 351.0 318.0 351.8 318.1 352.5 C318.1 353.3 318.9 354.0 319.1 354.7 C319.2 355.5 319.0 356.6 319.0 357.0" fill="none" stroke="#0808f4" stroke-width="1.30" stroke-linejoin="round"/>
<path d="M330.0 342.0 C330.2 342.3 330.6 343.3 331.2 343.6 C331.9 343.8 333.1 343.0 333.6 343.3 C334.1 343.7 333.8 345.4 334.3 345.7 C334.8 346.1 336.1 345.2 336.7 345.5 C337.2 345.9 337.0 347.4 337.6 347.7 C338.1 348.0 339.5 347.0 340.0 347.4 C340.5 347.7 340.3 349.2 340.8 349.6 C341.3 350.0 342.5 349.3 343.0 349.6 C343.6 349.9 343.6 351.0 344.2 351.4 C344.7 351.7 345.7 351.1 346.3 351.5 C346.9 351.9 347.0 353.4 347.7 353.7 C348.3 354.0 349.6 353.2 350.2 353.5 C350.9 353.8 351.0 355.3 351.7 355.6 C352.4 355.9 353.6 355.1 354.3 355.5 C354.9 355.9 354.9 357.4 355.6 357.7 C356.3 358.0 357.7 356.9 358.4 357.2 C359.1 357.5 359.1 359.2 359.7 359.5 C360.4 359.9 361.8 358.9 362.4 359.2 C363.0 359.5 362.7 361.1 363.2 361.6 C363.7 362.0 365.1 361.4 365.5 361.9 C366.0 362.3 365.5 363.9 366.0 364.4 C366.4 364.9 367.9 364.1 368.3 364.6 C368.7 365.1 367.9 366.7 368.3 367.3 C368.7 368.0 370.7 368.3 370.6 368.7 C370.5 369.1 368.4 369.0 367.7 369.5 C367.1 370.1 367.4 371.5 366.8 371.9 C366.2 372.4 364.9 371.7 364.4 372.2 C363.8 372.7 364.0 374.1 363.5 374.7 C363.0 375.3 361.8 375.2 361.6 375.7 C361.3 376.3 362.2 377.5 362.0 378.2 C361.8 378.9 360.5 379.2 360.3 379.8 C360.1 380.5 360.9 381.6 360.8 382.3 C360.7 383.0 359.5 383.5 359.6 384.1 C359.7 384.7 361.3 385.2 361.4 385.9 C361.5 386.6 360.2 387.4 360.3 388.1 C360.3 388.7 361.5 389.3 361.8 389.9 C362.1 390.5 361.4 391.5 361.9 391.8 C362.3 392.1 363.9 391.4 364.4 391.7 C364.9 392.1 364.5 393.5 364.9 393.9 C365.4 394.3 366.5 394.0 367.0 394.4 C367.4 394.8 367.2 395.9 367.7 396.3 C368.2 396.8 369.6 396.4 370.0 397.0 C370.5 397.5 370.1 398.9 370.6 399.4 C371.1 399.9 372.6 399.4 373.1 399.9 C373.6 400.4 373.1 402.0 373.6 402.4 C374.1 402.8 375.5 401.9 376.0 402.3 C376.5 402.7 376.2 404.3 376.8 404.7 C377.3 405.1 378.5 404.2 379.1 404.6 C379.6 404.9 379.5 406.3 380.0 406.6 C380.6 406.9 381.9 406.0 382.5 406.3 C383.0 406.5 382.9 408.0 383.4 408.3 C383.9 408.5 385.0 407.7 385.5 407.8 C386.1 407.9 386.8 408.8 387.0 409.0" fill="none" stroke="#0808f4" stroke-width="1.30" stroke-linejoin="round"/>
<path d="M420.0 257.5 C420.3 257.7 420.9 258.5 421.5 258.5 C422.1 258.6 423.0 257.5 423.6 257.7 C424.1 257.9 424.6 259.0 424.8 259.6 C425.0 260.2 425.2 260.6 424.9 261.2 C424.6 261.7 423.2 262.1 423.0 262.8 C422.8 263.4 423.7 264.6 423.7 265.2 C423.6 265.9 422.5 266.3 422.6 266.8 C422.7 267.3 424.2 267.6 424.4 268.2 C424.5 268.7 423.7 269.5 423.4 270.1 C423.1 270.7 423.0 271.6 422.4 272.0 C421.7 272.3 420.1 271.9 419.5 272.3 C418.9 272.8 419.3 274.2 418.8 274.5 C418.4 274.9 416.6 274.1 416.5 274.3 C416.5 274.6 418.5 275.3 418.7 276.0 C419.0 276.7 417.9 278.0 418.2 278.5 C418.6 279.0 420.4 278.5 420.8 279.0 C421.2 279.4 420.3 280.7 420.5 281.3 C420.7 282.0 421.9 282.3 421.9 282.9 C422.0 283.5 420.7 284.5 420.8 285.1 C421.0 285.8 422.9 286.3 422.8 286.9 C422.6 287.5 420.6 287.9 420.1 288.7 C419.5 289.4 420.1 290.9 419.7 291.5 C419.2 292.0 417.5 291.5 417.2 292.0 C416.9 292.5 418.0 294.0 417.8 294.5 C417.5 295.0 415.9 294.7 415.5 295.2 C415.2 295.7 415.7 296.7 415.5 297.3 C415.3 298.0 414.5 298.6 414.5 299.2 C414.6 299.9 416.0 300.8 416.0 301.5 C416.0 302.2 414.5 303.0 414.4 303.8 C414.4 304.5 416.1 305.4 415.8 306.0 C415.6 306.6 413.6 306.7 413.1 307.3 C412.7 308.0 413.5 309.4 413.1 310.0 C412.7 310.5 411.0 310.2 410.6 310.8 C410.2 311.4 411.2 313.1 410.7 313.5 C410.2 313.9 408.4 313.0 407.7 313.3 C406.9 313.6 406.9 315.2 406.3 315.6 C405.6 315.9 404.4 315.2 403.8 315.5 C403.1 315.9 403.0 317.3 402.3 317.6 C401.7 318.0 400.4 317.1 400.0 317.5 C399.5 317.8 400.0 319.4 399.5 319.8 C399.1 320.2 397.7 319.5 397.3 320.0 C396.8 320.4 397.4 322.0 396.9 322.4 C396.5 322.8 394.9 322.2 394.6 322.6 C394.4 323.0 395.6 324.3 395.6 325.0 C395.5 325.7 393.9 326.7 394.2 327.0 C394.4 327.3 396.4 326.7 397.2 327.0 C398.0 327.3 398.1 328.8 398.8 329.0 C399.5 329.2 400.7 327.9 401.2 328.3 C401.8 328.7 401.5 330.6 402.1 331.3 C402.7 332.0 404.1 331.9 404.7 332.5 C405.2 333.1 404.8 334.5 405.4 334.8 C405.9 335.2 407.4 334.4 408.0 334.8 C408.6 335.2 408.4 336.8 409.0 337.1 C409.7 337.5 411.1 336.6 411.7 337.1 C412.3 337.5 412.0 339.1 412.5 339.8 C413.0 340.4 414.2 340.2 414.5 340.7 C414.7 341.3 413.8 342.5 414.0 343.2 C414.2 343.9 415.5 344.1 415.7 344.8 C416.0 345.5 415.1 346.7 415.5 347.2 C415.9 347.6 417.5 347.1 418.2 347.6 C418.9 348.0 419.0 349.4 419.6 349.7 C420.3 350.0 421.7 349.0 422.3 349.3 C423.0 349.6 423.1 351.2 423.7 351.5 C424.4 351.8 425.8 351.0 426.5 351.4 C427.1 351.8 426.9 353.7 427.6 354.1 C428.3 354.5 430.0 353.4 430.5 353.8 C430.9 354.3 429.9 356.1 430.2 356.7 C430.6 357.3 432.3 356.9 432.7 357.4 C433.1 358.0 432.0 359.5 432.4 359.9 C432.7 360.3 434.4 359.5 434.9 359.8 C435.5 360.1 435.5 361.3 435.6 361.6" fill="none" stroke="#0808f4" stroke-width="1.30" stroke-linejoin="round"/>
<path d="M435.0 362.0 C434.7 362.2 433.5 362.4 433.2 363.0 C432.9 363.6 433.5 365.0 433.1 365.5 C432.7 366.0 431.2 365.6 430.7 366.1 C430.3 366.6 431.0 368.1 430.5 368.4 C430.0 368.8 428.5 367.9 427.8 368.2 C427.1 368.6 427.0 370.2 426.3 370.4 C425.7 370.7 424.5 369.7 423.8 369.9 C423.1 370.1 422.8 371.4 422.2 371.6 C421.5 371.9 420.4 371.2 419.8 371.5 C419.2 371.8 419.1 373.1 418.5 373.5 C417.9 373.8 416.8 373.2 416.2 373.5 C415.6 373.8 415.6 375.1 415.0 375.5 C414.4 375.8 413.0 375.2 412.8 375.6 C412.6 376.0 413.8 377.2 413.9 377.9 C413.9 378.7 413.0 379.4 413.1 380.1 C413.2 380.8 414.8 381.3 414.7 381.9 C414.6 382.5 412.9 383.1 412.5 383.8 C412.2 384.5 412.7 385.5 412.4 386.2 C412.1 386.9 410.8 387.1 410.5 387.8 C410.2 388.5 410.8 389.6 410.6 390.3 C410.4 391.0 409.4 391.4 409.4 392.0 C409.4 392.6 410.8 393.3 410.8 394.0 C410.7 394.7 409.2 395.3 409.2 396.0 C409.2 396.7 410.6 397.3 410.6 398.0 C410.7 398.7 409.8 399.3 409.5 400.0 C409.3 400.7 409.7 401.7 409.3 402.1 C408.8 402.6 407.2 402.3 406.7 402.8 C406.3 403.4 407.0 405.1 406.5 405.4 C406.0 405.7 404.6 404.7 403.8 404.8 C403.1 404.9 402.3 405.8 402.0 406.0" fill="none" stroke="#0808f4" stroke-width="1.30" stroke-linejoin="round"/>
<path d="M360.0 250.6 C360.4 250.4 361.9 250.1 362.7 249.6 C363.5 249.2 364.0 248.1 364.8 247.7 C365.7 247.3 366.8 247.7 367.6 247.3 C368.5 247.0 369.0 246.0 369.9 245.6 C370.7 245.3 371.8 245.6 372.6 245.2 C373.3 244.8 373.6 243.8 374.3 243.3 C375.0 242.9 376.1 243.0 376.7 242.5 C377.4 242.0 377.6 241.0 378.3 240.5 C378.9 240.0 380.0 240.1 380.7 239.7 C381.4 239.2 381.6 238.2 382.4 237.8 C383.1 237.4 384.3 237.6 385.1 237.3 C385.9 236.9 386.5 236.0 387.4 235.6 C388.2 235.3 389.2 235.5 390.1 235.2 C390.9 234.9 391.6 234.1 392.4 233.8 C393.2 233.5 394.1 233.7 394.8 233.4 C395.5 233.0 396.0 232.1 396.7 231.7 C397.4 231.4 398.5 231.8 399.1 231.2 C399.7 230.6 399.9 229.2 400.5 228.4 C401.2 227.5 402.1 226.9 402.8 226.2 C403.5 225.5 404.1 224.8 404.9 224.3 C405.7 223.8 406.6 223.3 407.6 223.2 C408.7 223.1 410.5 223.3 411.1 223.7 C411.7 224.1 411.1 225.3 411.4 225.9 C411.7 226.5 412.2 226.9 412.8 227.4 C413.3 227.9 414.1 228.5 414.9 228.9 C415.7 229.3 416.8 229.7 417.6 229.7 C418.5 229.8 419.3 229.6 420.1 229.3 C420.9 229.1 421.6 228.4 422.4 228.1 C423.3 227.9 424.3 228.1 425.1 227.7 C425.8 227.3 426.1 226.1 426.8 225.6 C427.5 225.0 428.5 224.9 429.2 224.4 C429.8 223.8 430.2 223.0 430.8 222.2 C431.4 221.5 432.1 220.9 432.7 220.1 C433.2 219.3 433.8 217.9 434.0 217.5" fill="none" stroke="#0808f4" stroke-width="1.30" stroke-linejoin="round"/>
<path d="M325.0 418.0 C325.4 418.1 326.5 418.9 327.2 418.6 C327.8 418.2 328.1 416.0 328.8 415.9 C329.4 415.9 330.5 418.0 331.2 418.3 C332.0 418.6 332.9 417.3 333.2 417.7 C333.4 418.1 332.3 420.2 332.8 420.6 C333.2 421.1 335.6 420.0 335.9 420.5 C336.3 421.1 334.4 423.6 334.8 424.0 C335.3 424.4 337.8 422.5 338.6 422.9 C339.3 423.2 338.8 425.7 339.4 426.1 C340.1 426.5 342.0 424.8 342.4 425.1 C342.9 425.4 341.9 427.4 342.4 427.9 C342.8 428.5 344.7 427.8 344.9 428.4 C345.2 428.9 343.6 430.7 343.9 431.2 C344.2 431.8 346.1 431.0 346.7 431.5 C347.3 432.1 346.7 434.1 347.3 434.3 C348.0 434.6 349.7 432.9 350.4 433.1 C351.1 433.4 350.9 435.6 351.6 435.9 C352.2 436.2 353.6 434.6 354.3 434.9 C354.9 435.2 354.8 437.8 355.5 437.9 C356.2 438.1 357.6 435.7 358.5 435.6 C359.3 435.5 360.1 437.6 360.4 437.3 C360.7 437.0 359.8 434.3 360.3 433.9 C360.7 433.4 362.4 435.0 362.9 434.7 C363.5 434.4 362.9 432.2 363.4 432.1 C363.9 432.0 365.4 434.0 366.2 434.0 C366.9 433.9 367.2 431.6 367.9 431.6 C368.6 431.6 369.5 434.0 370.2 433.9 C370.9 433.8 371.6 430.9 371.9 430.9 C372.1 430.9 371.4 433.4 371.9 434.1 C372.4 434.8 374.7 434.3 374.9 434.9 C375.2 435.5 373.2 437.0 373.4 437.6 C373.7 438.2 376.2 437.8 376.5 438.4 C376.8 439.0 375.1 440.8 375.5 441.2 C375.8 441.6 378.1 440.3 378.6 440.8 C379.0 441.2 378.0 443.0 378.2 443.8 C378.5 444.5 380.2 444.6 380.2 445.2 C380.2 445.9 378.1 446.8 378.1 447.5 C378.0 448.2 379.9 449.0 379.8 449.8 C379.7 450.5 377.3 451.9 377.4 452.0 C377.6 452.1 379.5 450.2 380.6 450.1 C381.6 450.0 383.0 451.7 383.7 451.3 C384.3 451.0 384.4 448.1 384.6 448.1 C384.7 448.2 383.9 451.0 384.6 451.5 C385.2 452.1 388.0 451.0 388.4 451.5 C388.7 452.0 386.9 454.8 386.7 454.8 C386.6 454.7 386.9 452.0 387.7 451.3 C388.4 450.6 390.8 451.2 391.2 450.6 C391.5 449.9 389.4 448.1 389.7 447.4 C390.0 446.7 392.1 446.4 392.8 446.4 C393.5 446.4 394.0 446.9 393.9 447.6 C393.8 448.3 391.8 449.9 392.1 450.5 C392.3 451.2 394.9 451.0 395.1 451.7 C395.4 452.3 393.1 454.3 393.5 454.6 C393.8 454.8 396.5 452.9 397.3 453.2 C398.0 453.5 397.4 456.1 397.9 456.4 C398.4 456.7 399.6 455.0 400.4 455.0 C401.2 454.9 402.0 456.4 402.5 456.1 C403.0 455.7 402.8 453.3 403.5 453.0 C404.2 452.7 405.9 454.5 406.8 454.5 C407.6 454.5 408.0 452.8 408.5 453.0 C409.0 453.2 409.0 455.3 409.6 455.7 C410.3 456.1 411.8 454.8 412.4 455.2 C413.0 455.7 412.8 458.3 413.4 458.3 C413.9 458.2 414.9 455.1 415.7 455.0 C416.5 454.9 417.5 457.6 418.2 457.5 C418.9 457.5 419.3 454.7 419.8 454.8 C420.3 454.9 420.3 457.8 421.1 458.1 C421.8 458.4 423.6 456.4 424.2 456.7 C424.8 457.0 424.1 459.5 424.7 459.8 C425.2 460.2 427.0 458.5 427.5 458.8 C428.1 459.2 427.4 461.8 427.9 462.1 C428.5 462.4 430.4 460.6 431.0 460.8 C431.6 461.1 431.2 463.7 431.5 463.8 C431.9 463.9 432.4 461.5 433.1 461.2 C433.8 460.9 435.3 462.4 435.7 461.9 C436.2 461.5 435.3 459.0 435.8 458.6 C436.4 458.3 438.3 460.2 438.9 459.9 C439.4 459.6 438.6 457.2 439.1 456.9 C439.7 456.5 441.4 458.2 442.0 457.9 C442.6 457.6 442.1 455.5 442.5 455.3 C443.0 455.1 444.2 456.8 444.9 456.6 C445.5 456.4 445.8 454.0 446.4 454.1 C447.0 454.1 448.0 456.9 448.6 456.9 C449.2 456.9 449.5 454.2 450.1 454.1 C450.7 454.0 451.4 456.2 452.2 456.4 C452.9 456.6 454.0 455.2 454.5 455.5 C455.0 455.8 454.9 457.6 455.0 458.0" fill="none" stroke="#0808f4" stroke-width="1.30" stroke-linejoin="round"/>
<path d="M318.0 345.0 L318.4 351.0 L321.0 355.0" fill="none" stroke="#0808f4" stroke-width="1.20" stroke-linejoin="round"/>
<path d="M435.6 361.6 L444.0 360.0 L452.5 361.6 L459.5 358.0 L466.6 354.0 L472.0 351.0 L480.0 347.0" fill="none" stroke="#0808f4" stroke-width="1.20" stroke-linejoin="round"/>
<path d="M10.4 154.4 L26.0 145.0 L34.0 141.0 L60.0 124.4 L83.0 110.4 L90.0 106.4 L97.4 103.6 L96.6 100.0 L98.0 98.0 L102.0 98.0 L103.6 100.0 L103.0 102.0 L108.0 100.6 L122.4 96.6 L124.4 102.0 L122.4 108.0 L124.0 114.0 L126.4 119.6 L129.6 123.6 L143.6 123.0 L142.4 114.4 L149.0 113.0 L152.0 110.6 L158.0 113.6 L168.0 117.0 L177.0 119.6 L179.4 121.0 L179.4 130.4 L190.0 131.0 L192.4 133.0 L193.0 131.0 L196.0 130.4 L202.0 129.0 L209.0 124.4 L215.0 123.6 L226.0 115.5 L233.0 109.0 L239.0 102.0 L236.0 97.0 L252.0 96.4 L253.6 99.4 L263.0 99.4 L264.6 97.0 L259.0 90.0 L260.4 84.0 L257.6 81.0 L264.0 77.0 L279.0 73.6 L280.4 76.0 L278.4 84.0 L284.0 85.6 L295.0 84.0 L297.0 80.6 L302.0 78.0 L306.0 72.0 L311.0 69.0 L316.0 71.6 L319.6 73.0 L320.0 80.0 L318.0 84.0 L310.0 85.0 L312.0 88.0 L324.0 88.0 L327.0 86.0 L330.0 91.0 L334.0 88.5 L341.0 79.5 L343.0 74.0 L345.0 72.4 L347.0 75.0 L351.0 75.6 L355.0 84.0 L350.4 92.0 L356.0 99.0 L360.0 109.0 L367.0 107.6 L372.6 111.0 L372.0 119.0 L377.0 120.0 L386.0 119.0 L388.0 117.4 L397.0 119.0 L401.0 114.0 L406.0 111.6 L411.0 113.0 L416.0 119.0 L417.0 127.0 L420.0 129.0 L428.0 132.0 L430.0 135.6 L437.0 136.4 L444.0 135.0 L446.4 137.0 L447.6 141.6 L453.0 139.6 L456.0 145.0 L452.0 148.0 L453.6 153.0 L449.0 156.0 L450.0 160.0 L446.0 162.4 L446.4 167.0 L443.0 171.0 L443.0 180.0 L439.0 183.6 L443.6 185.6 L440.0 192.0 L435.6 195.6 L436.0 199.0 L430.0 204.0 L428.4 209.0 L431.0 213.0 L436.0 216.5 L436.0 227.0 L442.0 226.0 L446.0 222.0 L449.0 226.0 L452.0 225.0 L454.0 228.0 L461.0 225.0 L463.0 228.0 L472.0 226.0 L481.0 228.0 L483.0 234.0 L492.0 234.0 L495.0 239.0 L500.0 248.0 L502.0 254.0 L514.0 254.0 L513.0 260.0 L504.0 267.0 L502.0 271.0 L504.0 275.6 L508.4 280.5 L517.0 280.5 L524.0 282.7 L526.0 285.5 L525.0 289.0 L529.5 291.0 L530.0 296.7 L528.0 302.0 L525.0 306.0 L528.0 310.0 L533.0 313.0 L535.0 315.7 L534.0 319.0 L529.5 322.7 L525.0 319.0 L522.0 319.0 L519.7 324.0 L517.0 329.0 L511.0 332.6 L507.0 335.0 L505.0 338.0 L503.0 341.0 L505.0 345.0 L505.0 350.0 L500.0 352.0 L499.5 355.0 L500.8 358.6 L498.0 360.8 L495.8 358.0 L497.5 355.0 L495.0 354.0 L492.0 353.0 L488.0 355.0 L483.0 352.0 L483.0 347.0 L476.0 352.0 L474.0 361.0 L467.0 363.0 L464.0 369.0 L461.0 376.0 L462.0 383.0 L456.0 388.0 L459.0 394.0 L450.0 398.0 L449.0 406.0 L444.0 412.0 L450.0 416.5 L446.0 422.0 L447.0 432.0 L452.0 435.0 L456.0 440.0 L458.0 445.0 L461.0 449.0 L465.0 452.0 L466.0 457.0 L469.0 463.0 L466.0 467.0 L466.0 472.0 L461.0 475.0 L461.0 481.0 L457.0 484.0 L453.0 482.0 L448.0 484.0 L442.0 488.0 L438.0 487.0 L432.0 488.0 L428.0 494.0 L424.0 492.0 L420.0 493.0 L414.0 494.0 L409.0 497.0 L406.0 494.0 L408.0 489.0 L406.0 485.0 L404.0 479.0 L400.0 475.0 L392.0 471.0 L386.0 472.0 L389.0 467.0 L385.0 462.0 L380.0 456.0 L371.0 457.0 L368.0 454.0 L365.0 452.5 L360.6 452.0 L359.0 447.5 L357.0 442.0 L353.0 440.6 L347.5 439.0 L343.0 435.0 L340.0 433.0 L335.0 434.0 L326.0 435.0 L322.5 435.6 L325.6 430.0 L324.0 425.0 L322.0 421.0 L322.5 417.5 L325.6 414.0 L327.0 411.0 L325.0 407.0 L322.0 403.0 L315.0 400.0 L314.0 396.0 L318.0 392.0 L320.0 386.0 L318.0 380.0 L320.0 376.0 L324.0 371.0 L325.0 367.0 L328.0 362.0 L324.0 360.0 L318.0 357.0 L310.0 363.0 L303.0 372.0 L299.0 378.0 L301.0 386.0 L298.0 392.0 L290.0 395.0 L283.0 397.0 L276.0 402.0 L265.0 403.0 L256.0 402.0 L246.0 399.0 L233.0 400.0 L227.0 395.0 L224.0 388.0 L227.0 381.0 L235.0 377.0 L234.0 371.0 L232.0 364.0 L224.0 361.0 L227.0 353.0 L226.0 345.0 L235.0 338.0 L234.0 333.0 L229.0 331.0 L227.0 335.0 L224.0 332.0 L222.0 326.0 L215.0 320.5 L209.0 314.0 L202.0 315.5 L196.0 317.5 L190.0 320.0 L182.0 315.0 L170.0 316.0 L168.0 321.0 L163.0 321.0 L159.0 313.0 L160.0 304.0 L160.0 296.0 L157.0 291.0 L152.0 285.0 L144.0 283.0 L137.0 284.0 L138.0 278.0 L133.0 277.0 L128.0 281.6 L120.0 283.7 L116.8 281.0 L110.0 277.8 L108.0 273.5 L106.8 263.6 L104.5 255.0 L103.0 249.5 L105.5 243.0 L104.0 238.0 L98.0 233.0 L95.0 227.0 L91.0 220.6 L87.0 219.4 L83.0 222.6 L79.0 221.0 L75.0 223.4 L68.0 226.0 L63.0 230.0 L61.0 236.0 L58.0 240.0 L53.0 237.0 L49.0 234.0 L43.0 232.0 L39.0 225.0 L34.0 219.0 L30.0 213.4 L22.0 212.0 L20.0 208.0 L17.0 204.0 L18.4 196.0 L17.0 191.0 L21.0 186.0 L20.0 182.0 L15.0 172.0 L13.0 161.0 L12.4 160.0Z" fill="none" stroke="#1c1c1c" stroke-width="1.6" stroke-linejoin="round"/>
<path d="M317.6 83.6 L319 85.6 L321.6 87.6" fill="none" stroke="#1c1c1c" stroke-width="1.5"/>
<path d="M330.0 83.0 L331.5 80.0 L334.0 79.0 L335.0 81.0 L333.5 84.0 L331.0 85.0Z" fill="#1e1e1e" stroke="#1e1e1e" stroke-width="0.8"/>
<rect x="563" y="95.90" width="26" height="44.20" fill="#a50026"/>
<rect x="563" y="139.87" width="26" height="44.20" fill="#de3f2e"/>
<rect x="563" y="183.84" width="26" height="44.20" fill="#f98e52"/>
<rect x="563" y="227.81" width="26" height="44.20" fill="#fed384"/>
<rect x="563" y="271.78" width="26" height="44.20" fill="#ffffbf"/>
<rect x="563" y="315.75" width="26" height="44.20" fill="#d3edf4"/>
<rect x="563" y="359.72" width="26" height="44.20" fill="#90c3dd"/>
<rect x="563" y="403.69" width="26" height="44.20" fill="#5183bb"/>
<rect x="563" y="447.66" width="26" height="43.97" fill="#313695"/>
<text x="600.6" y="101.9" font-size="14.4" fill="#000">9.5</text>
<text x="600.6" y="145.8" font-size="14.4" fill="#000">9</text>
<text x="600.6" y="189.7" font-size="14.4" fill="#000">8.5</text>
<text x="600.6" y="233.6" font-size="14.4" fill="#000">8</text>
<text x="600.6" y="277.5" font-size="14.4" fill="#000">7.5</text>
<text x="600.6" y="321.4" font-size="14.4" fill="#000">7</text>
<text x="600.6" y="365.2" font-size="14.4" fill="#000">6.5</text>
<text x="600.6" y="409.1" font-size="14.4" fill="#000">6</text>
<text x="600.6" y="453.0" font-size="14.4" fill="#000">5.5</text>
<text x="600.6" y="496.9" font-size="14.4" fill="#000">5</text>
<text x="616.6" y="74" font-size="14.4" font-weight="bold" fill="#000">°C</text>
<g fill="#0a50f0">
<path d="M7 5 L20 5 C24.5 8 28 13 28.8 20 C29.5 27 29 33 27 38 C25 43 22 46.5 21.3 50 L21 53.6 L7 53.6Z"/>
<path d="M56 8 L56 53.6 L24 53.6 C24.2 50.5 26 48 29 45 C33 41 37.5 36.5 39.5 32 C41 28 40.8 24 42.5 20 C44.5 15.5 48 11 52 9.2 C53.5 8.5 55 8.1 56 8Z"/>
<text x="4.1" y="70.7" font-size="21.5" textLength="54.2" lengthAdjust="spacingAndGlyphs" stroke="#0a50f0" stroke-width="0.35">IRM</text>
</g>
<text x="79.3" y="31.1" font-size="15.3" font-weight="bold" fill="#000" textLength="156.2" lengthAdjust="spacingAndGlyphs">Température moyenne</text>
<text x="78.3" y="51.5" font-size="13.4" fill="#000" textLength="118.2" lengthAdjust="spacingAndGlyphs">moyenne mars 2026</text>
</svg>
</body></html>
